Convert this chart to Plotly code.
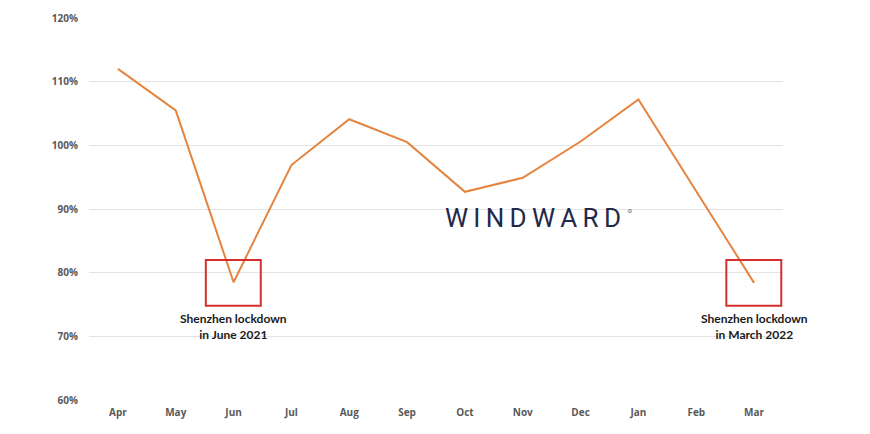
import plotly.graph_objects as go

# 月份与数值
months = ["Apr", "May", "Jun", "Jul", "Aug", "Sep", "Oct", "Nov", "Dec", "Jan", "Feb", "Mar"]
values = [112.0, 105.5, 78.5, 96.9, 104.1, 100.5, 92.7, 94.9, 100.6, 107.2, 92.8, 78.4]

# 封城标注
lockdown_months = ["Jun", "Mar"]
lockdown_labels = ["Shenzhen lockdown<br>in June 2021", "Shenzhen lockdown<br>in March 2022"]
box_low, box_high = 74.8, 82.0

LINE_COLOR = "#E5843F"
TICK_FONT = dict(family="Open Sans", size=10, color="#595959", weight="bold")

fig = go.Figure()

fig.add_trace(
    go.Scatter(
        x=months,
        y=values,
        mode="lines",
        line=dict(color=LINE_COLOR, width=2),
        showlegend=False,
        hoverinfo="skip",
    )
)

# 红框 + 文字说明
for m, label in zip(lockdown_months, lockdown_labels):
    i = months.index(m)
    fig.add_shape(
        type="rect",
        xref="x",
        yref="y",
        x0=i - 0.48,
        x1=i + 0.47,
        y0=box_low,
        y1=box_high,
        line=dict(color="#D32F2F", width=2),
    )
    fig.add_annotation(
        x=i,
        y=box_low,
        xref="x",
        yref="y",
        text=label,
        showarrow=False,
        yanchor="top",
        yshift=-3,
        font=dict(family="Lato", size=12, color="#1a1a1a", weight="bold"),
    )

# 水印 logo
hs = "\u200a"
fig.add_annotation(
    x=0.64,
    y=0.476,
    xref="paper",
    yref="paper",
    text=(hs * 2).join("WINDWARD"),
    showarrow=False,
    font=dict(family="Roboto", size=26, color="#1f2a48", weight=400),
)
fig.add_annotation(
    x=0.787,
    y=0.485,
    xref="paper",
    yref="paper",
    text="°",
    showarrow=False,
    font=dict(family="Roboto", size=15, color="#8a8f99"),
)

fig.update_layout(
    width=870,
    height=434,
    margin=dict(l=81, r=95, t=10, b=42),
    plot_bgcolor="white",
    paper_bgcolor="white",
    xaxis=dict(
        type="category",
        range=[-0.5, 11.5],
        automargin=False,
        showgrid=False,
        showline=False,
        zeroline=False,
        ticks="",
        tickfont=TICK_FONT,
        ticklabelstandoff=5,
    ),
    yaxis=dict(
        range=[60, 120],
        dtick=10,
        ticksuffix="%",
        automargin=False,
        showgrid=True,
        gridcolor="#e3e3e3",
        gridwidth=1,
        zeroline=False,
        showline=False,
        ticks="",
        tickfont=TICK_FONT,
        ticklabelstandoff=10,
    ),
)

fig.write_html("out.html")
